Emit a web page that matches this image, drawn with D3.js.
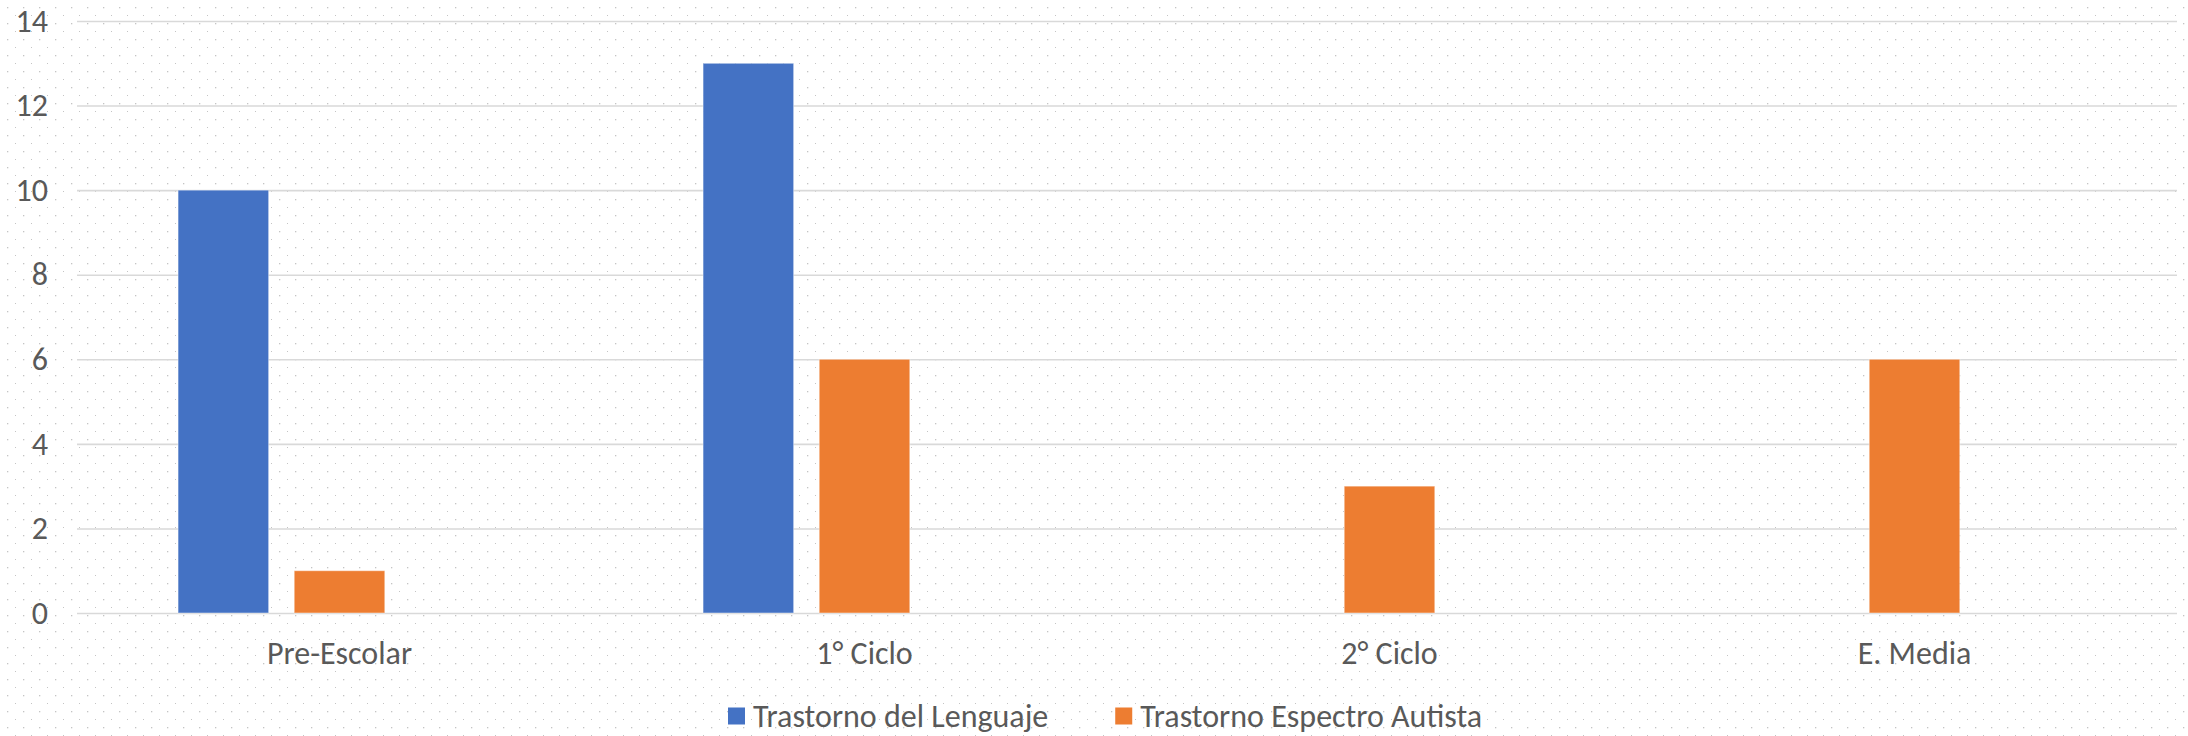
<!DOCTYPE html>
<html>
<head>
<meta charset="utf-8">
<script src="https://cdn.jsdelivr.net/npm/d3@7"></script>
<style>
  html, body { margin: 0; padding: 0; background: #fff; }
  svg { display: block; }
  text { font-family: Carlito, Calibri, Lato, "Liberation Sans", sans-serif; fill: #595959; }
</style>
</head>
<body>
<svg id="chart" width="2188" height="736"></svg>
<script>
// ---- data ----
const categories = ["Pre-Escolar", "1° Ciclo", "2° Ciclo", "E. Media"];
const seriesNames = ["Trastorno del Lenguaje", "Trastorno Espectro Autista"];
const lenguaje = [10, 13, null, null];
const autista = [1, 6, 3, 6];
const yTicks = [0, 2, 4, 6, 8, 10, 12, 14];
const colors = ["#4472C4", "#ED7D31"];
// the original chart reserves three bar slots per category (third one empty)
const slots = [0, 1, 2];

(function () {
const W = 2188, H = 736;
const svg = d3.select("#chart");
const fs = 32;

// dotted background pattern
const defs = svg.append("defs");
const pat = defs.append("pattern").attr("id", "dots").attr("patternUnits", "userSpaceOnUse")
  .attr("width", 16).attr("height", 16);
pat.append("rect").attr("x", 7).attr("y", 7).attr("width", 1.3).attr("height", 1.3).attr("fill", "#c4c4c4");
pat.append("rect").attr("x", 15).attr("y", 15).attr("width", 1.3).attr("height", 1.3).attr("fill", "#c4c4c4");
svg.append("rect").attr("width", W).attr("height", H).attr("fill", "#fff");
svg.append("rect").attr("width", W).attr("height", H).attr("fill", "url(#dots)");

const mLeft = 77, mRight = 2177, mTop = 21, mBottom = 613;

const x0 = d3.scaleBand().domain(categories).range([mLeft, mRight])
  .paddingInner(0.385).paddingOuter(0.1925);
const x1 = d3.scaleBand().domain(slots).range([0, x0.bandwidth()]).paddingInner(0.22);
const y = d3.scaleLinear().domain([0, 14]).range([mBottom, mTop]);

// y axis + gridlines
const gy = svg.append("g").attr("transform", `translate(${mLeft},0)`)
  .call(d3.axisLeft(y).tickValues(yTicks).tickSize(-(mRight - mLeft)).tickPadding(29).tickFormat(d3.format("d")));
gy.attr("font-family", null);
gy.select(".domain").remove();
gy.selectAll(".tick line").attr("stroke", "#d9d9d9").attr("stroke-width", 1.6);
gy.selectAll(".tick text").attr("font-size", fs).attr("fill", "#595959");

// bars
const series = [lenguaje, autista];
series.forEach((vals, si) => {
  svg.append("g").selectAll("rect")
    .data(categories.map((c, i) => ({ c, v: vals[i] })).filter(d => d.v != null && d.v > 0))
    .join("rect")
    .attr("x", d => x0(d.c) + x1(si))
    .attr("width", x1.bandwidth())
    .attr("y", d => y(d.v))
    .attr("height", d => y(0) - y(d.v))
    .attr("fill", colors[si])
    .attr("stroke", "rgba(255,255,255,0.45)")
    .attr("stroke-width", 1);
});

// x axis labels
const gx = svg.append("g").attr("transform", `translate(0,${mBottom})`)
  .call(d3.axisBottom(x0).tickSize(0));
gx.attr("font-family", null);
gx.select(".domain").remove();
gx.selectAll(".tick text").attr("y", 51).attr("dy", 0).attr("font-size", fs).attr("fill", "#595959");

// legend
const leg = svg.append("g");
const legY = 716;
let lx = 728;
seriesNames.forEach((name, i) => {
  leg.append("rect").attr("x", lx).attr("y", legY - 8.5).attr("width", 17).attr("height", 17).attr("fill", colors[i]);
  const t = leg.append("text").attr("x", lx + 25).attr("y", legY).attr("dy", "0.35em")
    .attr("font-size", fs).text(name);
  const w = t.node().getComputedTextLength();
  lx = lx + 25 + w + 67;
});
})();
</script>
</body>
</html>
